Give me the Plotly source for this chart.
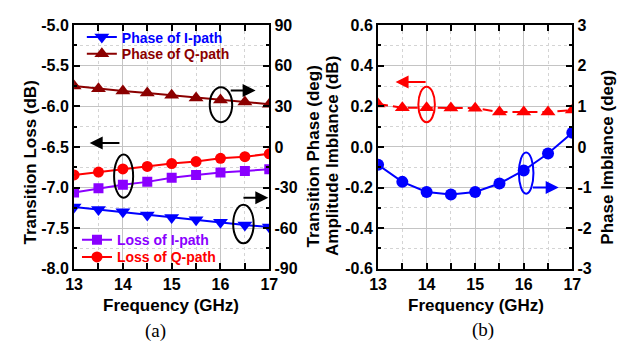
import plotly.graph_objects as go

# Frequency sweep (GHz)
freq = [13, 13.5, 14, 14.5, 15, 15.5, 16, 16.5, 17]

# Panel (a): transition phase (deg) and transition loss (dB)
phase_i = [-44.3, -46.2, -47.9, -50.3, -52.1, -53.8, -55.6, -57.7, -59.2]
phase_q = [45.0, 43.0, 41.3, 39.8, 38.2, 36.2, 34.6, 33.2, 31.6]
loss_i = [-7.06, -7.01, -6.965, -6.93, -6.88, -6.845, -6.815, -6.795, -6.775]
loss_q = [-6.845, -6.81, -6.77, -6.74, -6.705, -6.68, -6.64, -6.62, -6.585]

# Panel (b): amplitude imbalance (dB) and phase imbalance (deg)
amp_imb = [0.212, 0.193, 0.193, 0.192, 0.191, 0.172, 0.172, 0.172, 0.182]
phase_imb = [-0.44, -0.86, -1.11, -1.17, -1.11, -0.90, -0.58, -0.16, 0.35]

# Tick labels (plain hyphen minus signs)
freq_ticks = [13, 14, 15, 16, 17]
freq_labels = ["13", "14", "15", "16", "17"]
loss_ticks = [-8.0, -7.5, -7.0, -6.5, -6.0, -5.5, -5.0]
loss_labels = ["-8.0", "-7.5", "-7.0", "-6.5", "-6.0", "-5.5", "-5.0"]
tphase_ticks = [-90, -60, -30, 0, 30, 60, 90]
tphase_labels = ["-90", "-60", "-30", "0", "30", "60", "90"]
amp_ticks = [-0.6, -0.4, -0.2, 0.0, 0.2, 0.4, 0.6]
amp_labels = ["-0.6", "-0.4", "-0.2", "0.0", "0.2", "0.4", "0.6"]
pimb_ticks = [-3, -2, -1, 0, 1, 2, 3]
pimb_labels = ["-3", "-2", "-1", "0", "1", "2", "3"]

BLUE = "#0000ff"
DARKRED = "#8b0000"
PURPLE = "#8a00ff"
RED = "#ff0000"
FONT = "Liberation Sans"
W, H = 625, 352


def px(x):
    return x / W


def py(y):
    return 1 - y / H


fig = go.Figure()

fig.add_trace(go.Scatter(x=freq, y=phase_i, name="Phase of I-path", xaxis="x", yaxis="y2",
                         mode="lines+markers", line=dict(color=BLUE, width=2),
                         marker=dict(symbol="triangle-down", size=13, color=BLUE),
                         legend="legend"))
fig.add_trace(go.Scatter(x=freq, y=phase_q, name="Phase of Q-path", xaxis="x", yaxis="y2",
                         mode="lines+markers", line=dict(color=DARKRED, width=2),
                         marker=dict(symbol="triangle-up", size=13, color=DARKRED),
                         legend="legend2"))
fig.add_trace(go.Scatter(x=freq, y=loss_i, name="Loss of I-path", xaxis="x", yaxis="y",
                         mode="lines+markers", line=dict(color=PURPLE, width=2),
                         marker=dict(symbol="square", size=10, color=PURPLE),
                         legend="legend3"))
fig.add_trace(go.Scatter(x=freq, y=loss_q, name="Loss of Q-path", xaxis="x", yaxis="y",
                         mode="lines+markers", line=dict(color=RED, width=2),
                         marker=dict(symbol="circle", size=11, color=RED),
                         legend="legend4"))

fig.add_trace(go.Scatter(x=freq, y=amp_imb, name="Amplitude imbalance", xaxis="x2", yaxis="y3",
                         mode="lines+markers", line=dict(color=RED, width=2, dash="10px,5px"),
                         marker=dict(symbol="triangle-up", size=13, color=RED),
                         showlegend=False))
fig.add_trace(go.Scatter(x=freq, y=phase_imb, name="Phase imbalance", xaxis="x2", yaxis="y4",
                         mode="lines+markers", line=dict(color=BLUE, width=2),
                         marker=dict(symbol="circle", size=12, color=BLUE),
                         showlegend=False))

tickfont = dict(family=FONT, size=16, color="black", weight="bold")
common = dict(showline=True, linewidth=2, linecolor="black", ticks="inside", ticklen=6,
              tickwidth=2, tickcolor="black", tickfont=tickfont, zeroline=False)
grid = dict(showgrid=True, gridcolor="#c4c4c4", gridwidth=1)


def minor(d, show_grid=True):
    return dict(dtick=d, ticks="inside", ticklen=3, tickwidth=1.5, tickcolor="black",
                showgrid=show_grid, gridcolor="#d4d4d4", griddash="dot", gridwidth=1)


dom_a = [px(67), px(268)]
dom_b = [px(380), px(580)]
dom_y = [py(274), py(18)]

fig.update_layout(
    width=W, height=H, margin=dict(l=0, r=0, t=0, b=0),
    paper_bgcolor="white", plot_bgcolor="white",
    xaxis=dict(domain=dom_a, anchor="y", range=[13, 17], tickmode="array",
               tickvals=freq_ticks, ticktext=freq_labels, mirror="allticks",
               minor=dict(tick0=13, **minor(0.5)), **common, **grid),
    yaxis=dict(domain=dom_y, anchor="x", range=[-8, -5], tickmode="array",
               tickvals=loss_ticks, ticktext=loss_labels, mirror=True,
               minor=dict(tick0=-8, **minor(0.25)), **common, **grid),
    yaxis2=dict(overlaying="y", anchor="x", side="right", range=[-90, 90], tickmode="array",
                tickvals=tphase_ticks, ticktext=tphase_labels, showgrid=False,
                minor=dict(tick0=-90, **minor(15, False)), **common),
    xaxis2=dict(domain=dom_b, anchor="y3", range=[13, 17], tickmode="array",
                tickvals=freq_ticks, ticktext=freq_labels, mirror="allticks",
                minor=dict(tick0=13, **minor(0.5)), **common, **grid),
    yaxis3=dict(domain=dom_y, anchor="x2", range=[-0.6, 0.6], tickmode="array",
                tickvals=amp_ticks, ticktext=amp_labels, mirror=True,
                minor=dict(tick0=-0.6, **minor(0.1)), **common, **grid),
    yaxis4=dict(overlaying="y3", anchor="x2", side="right", range=[-3, 3], tickmode="array",
                tickvals=pimb_ticks, ticktext=pimb_labels, showgrid=False,
                minor=dict(tick0=-3, **minor(0.5, False)), **common),
)

legend_font = dict(family=FONT, size=14, weight="bold")
legend_spots = [("legend", 31, BLUE, 75), ("legend2", 48.5, DARKRED, 75),
                ("legend3", 244, PURPLE, 70), ("legend4", 262, RED, 70)]
for key, yy, col, xx in legend_spots:
    fig.update_layout({key: dict(x=px(xx), y=py(yy), xanchor="left", yanchor="middle",
                                 bgcolor="rgba(0,0,0,0)", borderwidth=0,
                                 font=dict(color=col, **legend_font),
                                 tracegroupgap=0, itemwidth=30)})

title_font = dict(family=FONT, size=17, color="black", weight="bold")
titles = [
    ("Frequency (GHz)", 167, 313, 0),
    ("Frequency (GHz)", 481, 313, 0),
    ("Transition Loss (dB)", 22, 162, -90),
    ("Transition Phase (deg)", 313, 156, -90),
    ("Amplitude Imblance (dB)", 333, 155, -90),
    ("Phase Imblance (deg)", 616, 157, -90),
]
for text, xx, yy, ang in titles:
    fig.add_annotation(text=text, x=px(xx), y=py(yy), xref="paper", yref="paper",
                       showarrow=False, textangle=ang, font=title_font,
                       xanchor="center", yanchor="middle")

for text, xx, yy in [("(a)", 151, 339), ("(b)", 488, 338)]:
    fig.add_annotation(text=text, x=px(xx), y=py(yy), xref="paper", yref="paper",
                       showarrow=False,
                       font=dict(family="Liberation Serif", size=19, color="black"),
                       xanchor="center", yanchor="middle")

# Ellipses marking which curves belong to which axis
ellipses = [
    ("x", "y2", 15.78, 16.24, 18.3, 44.1, "black"),
    ("x", "y", 13.82, 14.21, -7.125, -6.594, "black"),
    ("x", "y2", 16.26, 16.68, -71.2, -42.7, "black"),
    ("x2", "y3", 13.83, 14.17, 0.122, 0.297, RED),
    ("x2", "y3", 15.9, 16.2, -0.23, -0.027, BLUE),
]
for xr, yr, x0, x1, y0, y1, col in ellipses:
    fig.add_shape(type="circle", xref=xr, yref=yr, x0=x0, x1=x1, y0=y0, y1=y1,
                  line=dict(color=col, width=2), fillcolor="rgba(0,0,0,0)")

# Arrows pointing toward the relevant axis
arrows = [
    ("x", "y2", 16.18, 41.7, 16.72, 41.7, "black"),
    ("x", "y", 13.96, -6.45, 13.32, -6.45, "black"),
    ("x", "y2", 16.44, -37.5, 16.98, -37.5, "black"),
    ("x2", "y3", 14.01, 0.32, 13.36, 0.32, RED),
    ("x2", "y3", 16.16, -0.2, 16.72, -0.2, BLUE),
]
for xr, yr, xt, yt, xh, yh, col in arrows:
    fig.add_annotation(x=xh, y=yh, ax=xt, ay=yt, xref=xr, yref=yr, axref=xr, ayref=yr,
                       text="", showarrow=True, arrowhead=2, arrowsize=1.3,
                       arrowwidth=2, arrowcolor=col, standoff=0)

fig.write_html("out.html")
